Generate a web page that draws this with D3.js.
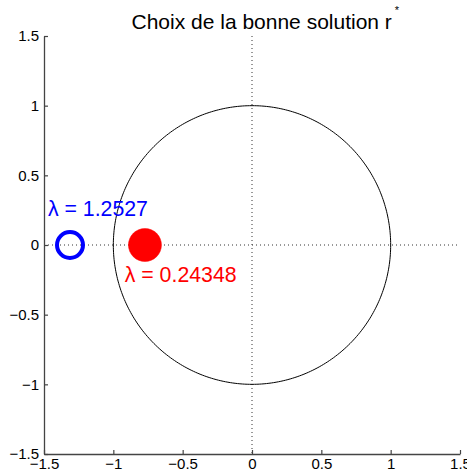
<!DOCTYPE html>
<html><head><meta charset="utf-8">
<script src="https://cdn.jsdelivr.net/npm/d3@7"></script>
<style>body{margin:0;background:#fff}svg{display:block}text{font-family:"Liberation Sans",Arial,sans-serif}</style>
</head><body>
<script>
const xTicks = [-1.5, -1, -0.5, 0, 0.5, 1, 1.5];
const yTicks = [-1.5, -1, -0.5, 0, 0.5, 1, 1.5];
const domain = [-1.5, 1.5];
const titleText = "Choix de la bonne solution r";
const rootLabels = ["λ = 1.2527", "λ = 0.24348"];
const rootX = [-1.3125, -0.772];
const rootY = [0, 0];
const rootFilled = [false, true];
const rootColors = ["#0000ff", "#ff0000"];
const labelPos = [[-1.472, 0.207], [-0.918, -0.266]];

const W = 467, H = 475;
const svg = d3.select("body").append("svg").attr("width", W).attr("height", H);
const x = d3.scaleLinear().domain(domain).range([44, 460]);
const y = d3.scaleLinear().domain(domain).range([454, 36]);
const fmt = d => d < 0 ? "\u2212" + Math.abs(d) : String(d);

// dotted axes through origin
svg.append("line").attr("x1", x(-1.5)).attr("x2", x(1.5)).attr("y1", y(0)).attr("y2", y(0))
  .attr("stroke", "#333").attr("stroke-width", 1).attr("stroke-dasharray", "1,3");
svg.append("line").attr("x1", x(0)).attr("x2", x(0)).attr("y1", y(1.5)).attr("y2", y(-1.5))
  .attr("stroke", "#333").attr("stroke-width", 1).attr("stroke-dasharray", "1,3");

// unit circle
const circ = d3.range(0, 361, 1).map(a => [Math.cos(a * Math.PI / 180), Math.sin(a * Math.PI / 180)]);
svg.append("path").attr("d", d3.line().x(d => x(d[0])).y(d => y(d[1]))(circ))
  .attr("fill", "none").attr("stroke", "#000").attr("stroke-width", 1);

// roots
rootX.forEach((rx, i) => {
  svg.append("circle").attr("cx", x(rx)).attr("cy", y(rootY[i]))
    .attr("r", rootFilled[i] ? 16.5 : 13)
    .attr("fill", rootFilled[i] ? rootColors[i] : "none")
    .attr("stroke", rootColors[i]).attr("stroke-width", rootFilled[i] ? 0.5 : 4);
  svg.append("text").attr("x", x(labelPos[i][0])).attr("y", y(labelPos[i][1]))
    .attr("fill", rootColors[i]).attr("font-size", 21.3).text(rootLabels[i]);
});

// axes (MATLAB style, inward ticks)
const xAxis = d3.axisBottom(x).tickValues(xTicks).tickSize(-4).tickSizeOuter(0).tickPadding(8).tickFormat(fmt);
const gx = svg.append("g").attr("transform", `translate(0,${y(-1.5)})`).call(xAxis);
const yAxis = d3.axisLeft(y).tickValues(yTicks).tickSize(-4).tickSizeOuter(0).tickPadding(8).tickFormat(fmt);
const gy = svg.append("g").attr("transform", `translate(${x(-1.5)},0)`).call(yAxis);
[gx, gy].forEach(g => {
  g.select(".domain").attr("stroke", "#444").attr("stroke-width", 1.3);
  g.selectAll(".tick line").attr("stroke", "#444").attr("stroke-width", 1.2);
  g.selectAll(".tick text").attr("fill", "#000").attr("font-size", 15)
    .style("font-family", '"Liberation Sans",Arial,sans-serif');
});
gy.selectAll(".tick text").attr("x", -5);
gx.selectAll(".tick text").attr("y", 4).attr("dy", "0.71em");

// title
const t = svg.append("text").attr("x", 131.5).attr("y", 29).attr("font-size", 21).attr("fill", "#000");
t.append("tspan").text(titleText);
t.append("tspan").attr("font-size", 11).attr("dx", 3).attr("dy", -15).text("*");
</script>
</body></html>
